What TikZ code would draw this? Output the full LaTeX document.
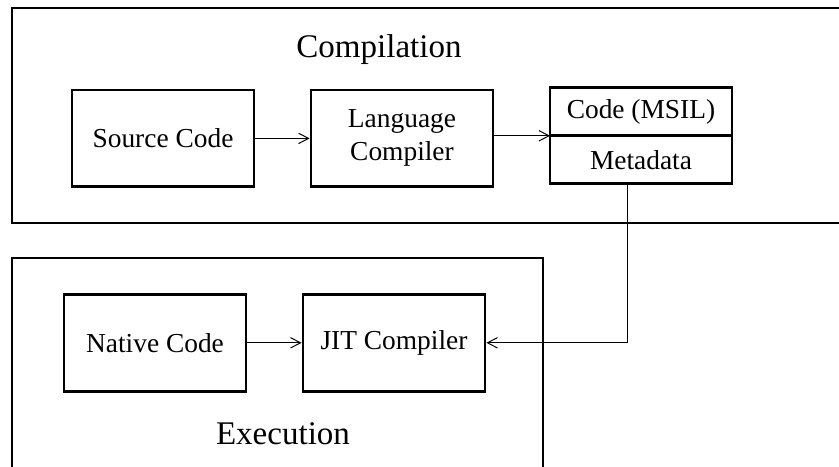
\documentclass[tikz,border=0pt]{standalone}
\usepackage{fontspec}
\setmainfont{Liberation Serif}
\usetikzlibrary{arrows.meta}

\tikzset{
    stage/.style={draw,line width=2pt,minimum width=4.55cm,minimum height=2.42cm,
        align=center,font=\fontsize{19.5}{23.5}\selectfont},
    half/.style={stage,minimum height=1.2cm,outer sep=0pt},
    frame/.style={draw,line width=2pt},
    title/.style={font=\fontsize{23.5}{28}\selectfont}
}

\begin{document}
\begin{tikzpicture}[>={Straight Barb[length=2.5mm,width=2.6mm]},line width=0.7pt]
        \useasboundingbox (0,0) rectangle (20.975,11.65);
        % the two phases
        \draw[frame] (0.3,6.075) rectangle (21.4,11.45);
        \draw[frame] (0.3,-0.5) rectangle (13.575,5.2);
        \path (9.475,10.4) node[title](compilation){Compilation};
        \path (7.075,0.8) node[title](execution){Execution};
        % compile time
        \path (4.075,8.19) node[stage](source){Source Code};
        \path (10.05,8.19) node[stage](lang){Language\\Compiler};
        \path (16.025,8.855) node[half](msil){Code (MSIL)};
        \path (msil.south) node[half,anchor=north](meta){Metadata};
        % run time
        \path (3.875,3.08) node[stage](native){Native Code};
        \path (9.85,3.08) node[stage](jit){JIT Compiler};
        \draw[->] (source) -- (lang);
        \draw[->] (lang.east |- meta.north) -- (meta.north west);
        \draw[->] ([xshift=-0.35cm]meta.south) |- (jit.east);
        \draw[->] (native) -- (jit);


    \end{tikzpicture}
\end{document}
